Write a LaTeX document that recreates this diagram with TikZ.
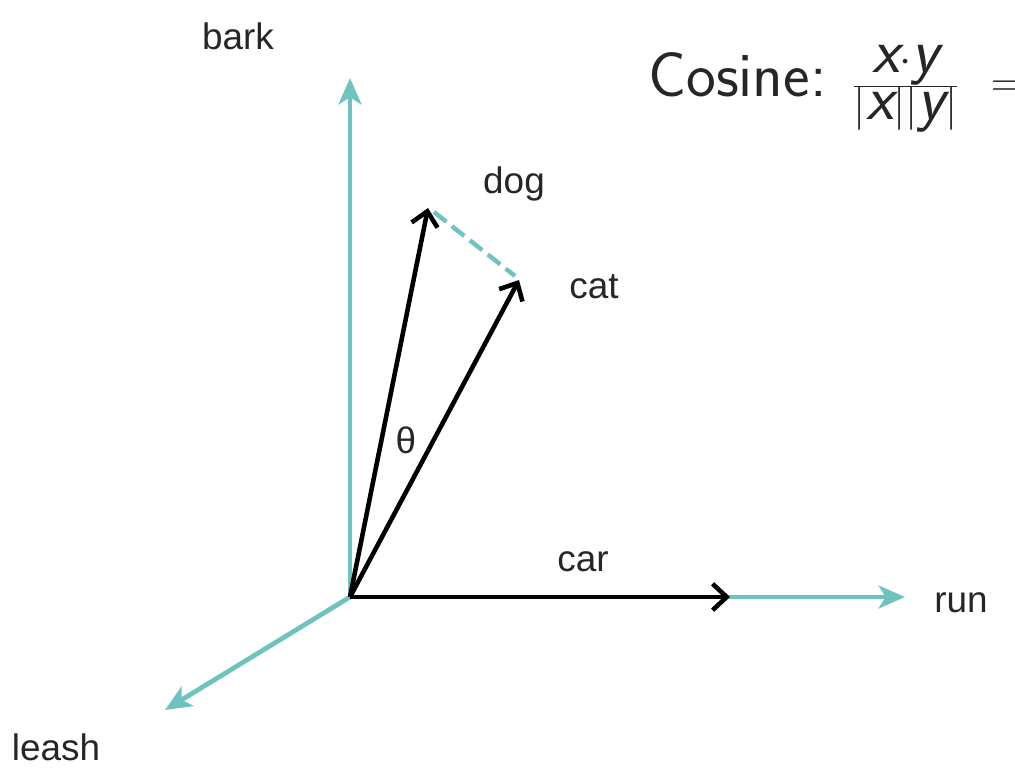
\documentclass[tikz,border=0pt]{standalone}
\usepackage{fontspec}
\setmainfont{Liberation Sans}
\usetikzlibrary{arrows.meta}
\definecolor{tealax}{HTML}{6EC3BE}
\tikzset{
  axis/.style={draw=tealax, line width=2.7pt, -{Stealth[length=15pt,width=13pt,inset=4pt]}},
  vec/.style={draw=black, line width=2.6pt, -{Straight Barb[length=8pt,width=15pt,line width=2.6pt]}},
  lbl/.style={font=\fontsize{21}{24}\selectfont, text=black!85, inner sep=0pt},
}
\begin{document}
\begin{tikzpicture}[x=0.02cm,y=-0.02cm]
\useasboundingbox (0,0) rectangle (1015,773);
\coordinate (O) at (350,597);
\coordinate (bark) at (350,78);
\coordinate (run) at (905,597);
\coordinate (leash) at (165,710);
\coordinate (dog) at (428,208);
\coordinate (cat) at (519,280);
\coordinate (car) at (730,597);
\coordinate (d1) at (434,212);
\coordinate (d2) at (515,276);
\draw[axis] (O) -- (bark);
\draw[axis] (O) -- (run);
\draw[axis] (O) -- (leash);
\draw[vec] (O) -- (dog);
\draw[vec] (O) -- (cat);
\draw[vec] (O) -- (car);
\draw[draw=tealax, line width=2.5pt, dash pattern=on 9pt off 4pt] (d1) -- (d2);
\node[lbl] (tbark) at (238,36) {bark};
\node[lbl] (tdog) at (514,184) {dog};
\node[lbl] (tcat) at (594,287) {cat};
\node[lbl] (ttheta) at (406,440) {θ};
\node[lbl] (tcar) at (583,562) {car};
\node[lbl] (trun) at (961,603) {run};
\node[lbl] (tleash) at (56,747) {leash};
\node[anchor=base west, inner sep=0pt, text=black!85] (cos) at (648,97)
  {\fontsize{36}{40}\selectfont\sffamily Cosine:\hspace{0.4em}$\textstyle\frac{\textsf{\itshape x}\cdot\textsf{\itshape y}}{|\textsf{\itshape x}||\textsf{\itshape y}|}\;\,=$};
\end{tikzpicture}
\end{document}
